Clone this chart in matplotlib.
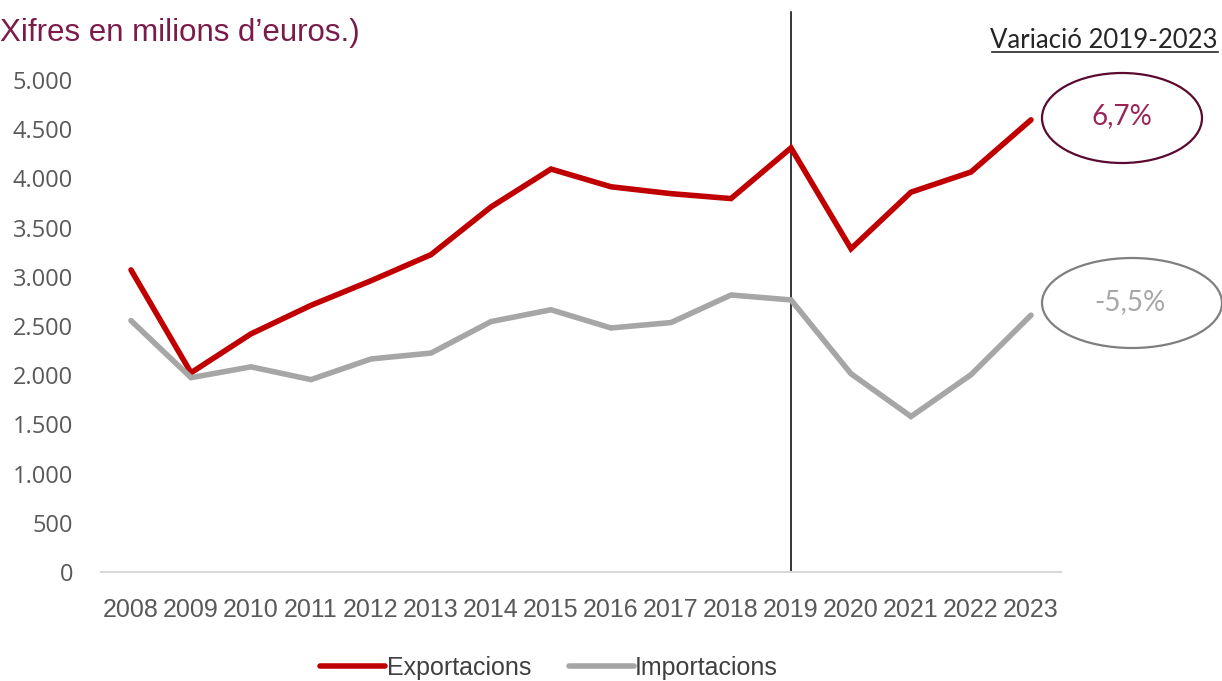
"""
Exportacions i importacions 2008-2023 (milions d'euros)
"""
import matplotlib
matplotlib.use("Agg")
import matplotlib.pyplot as plt
from matplotlib.patches import Ellipse
from matplotlib.lines import Line2D
from matplotlib.ticker import FuncFormatter

# Data
years = ['2008', '2009', '2010', '2011', '2012', '2013', '2014', '2015',
         '2016', '2017', '2018', '2019', '2020', '2021', '2022', '2023']
exportacions = [3070, 2025, 2420, 2710, 2960, 3225, 3710, 4095,
                3915, 3845, 3795, 4310, 3285, 3860, 4065, 4595]
importacions = [2555, 1975, 2085, 1955, 2165, 2225, 2545, 2665,
                2480, 2535, 2815, 2765, 2015, 1580, 2005, 2610]
var_export = "6,7%"
var_import = "-5,5%"
yticks = [0, 500, 1000, 1500, 2000, 2500, 3000, 3500, 4000, 4500, 5000]

RED = '#C00000'
GREY = '#A6A6A6'
NARROW = ['Liberation Sans', 'DejaVu Sans']
THIN = ['Lato', 'DejaVu Sans']

W, H = 1222, 681
fig = plt.figure(figsize=(W / 100, H / 100), dpi=100)
ax = fig.add_axes([101 / W, 1 - 572 / H, 960 / W, 492 / H])

x = list(range(len(years)))
ax.plot(x, exportacions, color=RED, linewidth=4, solid_capstyle='round',
        solid_joinstyle='miter', label='Exportacions', zorder=3)
ax.plot(x, importacions, color=GREY, linewidth=4, solid_capstyle='round',
        solid_joinstyle='miter', label='Importacions', zorder=3)

# vertical marker at 2019
ax.axvline(years.index('2019'), ymin=0, ymax=1.138, color='black',
           linewidth=1.1, clip_on=False, zorder=2)

ax.set_xlim(-0.5, len(years) - 0.5)
ax.set_ylim(0, 5000)
ax.set_yticks(yticks)
ax.yaxis.set_major_formatter(FuncFormatter(lambda v, p: f"{v:,.0f}".replace(",", ".")))
ax.set_xticks(x)
ax.set_xticklabels(years, fontfamily=NARROW, fontsize=18, color='#595959')

for s in ['top', 'right', 'left']:
    ax.spines[s].set_visible(False)
ax.spines['bottom'].set_color('#D9D9D9')
ax.spines['bottom'].set_linewidth(1.5)
ax.tick_params(axis='both', length=0)
ax.tick_params(axis='y', pad=20, labelsize=17, labelcolor='#595959')
ax.tick_params(axis='x', pad=19)
for lbl in ax.get_yticklabels():
    lbl.set_fontfamily(['Open Sans', 'DejaVu Sans'])

# legend
fig.legend(loc='center', bbox_to_anchor=(549 / W, 1 - 668 / H), ncol=2,
           frameon=False, handlelength=2.6, handletextpad=0.05,
           columnspacing=1.5, prop={'family': NARROW, 'size': 18},
           labelcolor='#404040')

# subtitle
fig.text(0, 1 - 41 / H, "Xifres en milions d\u2019euros.)", fontfamily=NARROW,
         fontsize=22.5, color='#7B1B4A', ha='left', va='baseline')

# variation header, underlined
fig.text(1218 / W, 1 - 48 / H, "Variació 2019-2023", fontfamily=THIN,
         fontweight='normal', fontsize=18.5, color='#262626', ha='right', va='baseline')
fig.add_artist(Line2D([992 / W, 1218 / W], [1 - 52 / H, 1 - 52 / H],
                      transform=fig.transFigure, color='#262626', linewidth=1.2))

# ellipses with variation values
fig.add_artist(Ellipse((1122 / W, 1 - 118 / H), 160 / W, 90 / H,
                       transform=fig.transFigure, fill=False,
                       edgecolor='#5A0A2E', linewidth=1.6))
fig.text(1122 / W, 1 - 116 / H, var_export, fontfamily=THIN,
         fontweight='normal', fontsize=20, color='#9B2456', ha='center', va='center')

fig.add_artist(Ellipse((1132 / W, 1 - 303 / H), 180 / W, 90 / H,
                       transform=fig.transFigure, fill=False,
                       edgecolor='#7F7F7F', linewidth=1.6))
fig.text(1130 / W, 1 - 302 / H, var_import, fontfamily=THIN,
         fontweight='normal', fontsize=20, color='#A6A6A6', ha='center', va='center')

fig.savefig('out.png', dpi=100)
